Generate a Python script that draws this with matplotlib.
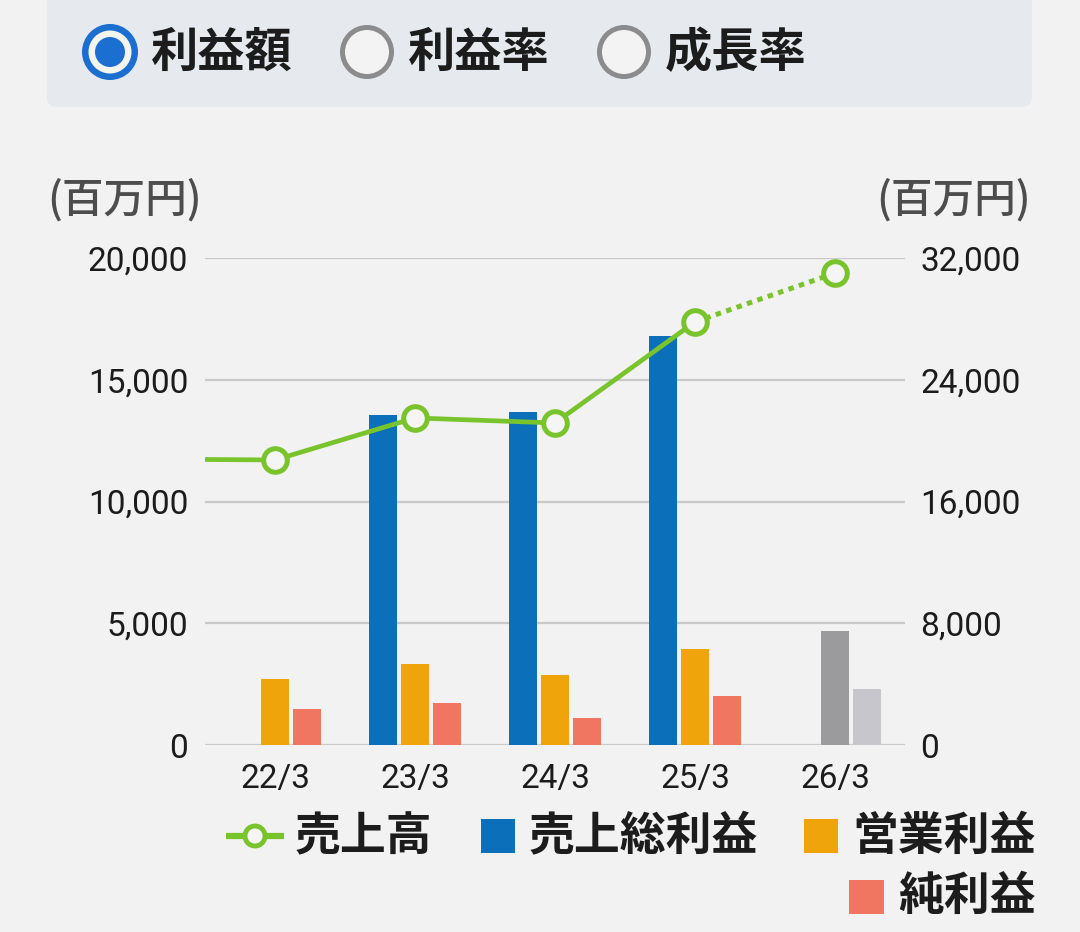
import matplotlib
matplotlib.use("Agg")
import matplotlib.pyplot as plt
from matplotlib.patches import FancyBboxPatch, Circle, Rectangle
from matplotlib.lines import Line2D
import numpy as np

# ---- data ----
categories = ['22/3', '23/3', '24/3', '25/3', '26/3']
sales_prev = 18790          # 21/3 (off the left edge)
sales = [18730, 21490, 21160, 27800, 31010]
gross_profit = [None, 13550, 13680, 16800, None]
operating_profit = [2710, 3330, 2880, 3930, None]
net_profit = [1490, 1740, 1100, 2000, None]
forecast_operating = 4700   # 26/3
forecast_net = 2300         # 26/3
left_ticks = [0, 5000, 10000, 15000, 20000]
right_ticks = [0, 8000, 16000, 24000, 32000]
radio_labels = ['利益額', '利益率', '成長率']
legend_labels = ['売上高', '売上総利益', '営業利益', '純利益']
unit_label = '(百万円)'

# ---- style ----
BG = '#f2f2f2'
BLUE = '#0b6fba'
ORANGE = '#f0a40c'
RED = '#f07662'
GRAY = '#9b9b9d'
LGRAY = '#c6c6cc'
GREEN = '#79c42c'
CJK = ['Noto Sans CJK JP', 'DejaVu Sans']
NUM = ['Roboto', 'Noto Sans CJK JP']
TXT = '#1c1c1c'

W, H = 1080, 932
fig = plt.figure(figsize=(W / 100, H / 100), dpi=100, facecolor=BG)

# background overlay axes in pixel coordinates
bg = fig.add_axes([0, 0, 1, 1], zorder=-1)
bg.set_xlim(0, W)
bg.set_ylim(H, 0)
bg.axis('off')

# top panel
bg.add_patch(FancyBboxPatch((47, -20), 985, 127, boxstyle='round,pad=0,rounding_size=10',
                            fc='#e6e9ed', ec='none'))
radio_x = [110, 367, 624]
for i, (cx, lab) in enumerate(zip(radio_x, radio_labels)):
    if i == 0:
        bg.add_patch(Circle((cx, 52), 28, fc='#1a6fd0', ec='none'))
        bg.add_patch(Circle((cx, 52), 21.5, fc='#f5f5f0', ec='none'))
        bg.add_patch(Circle((cx, 52), 15, fc='#1a6fd0', ec='none'))
    else:
        bg.add_patch(Circle((cx, 52), 27, fc='#8c8c8c', ec='none'))
        bg.add_patch(Circle((cx, 52), 22, fc='#f3f3f3', ec='none'))
    bg.text(cx + 41, 53, lab, fontsize=34, family=CJK, weight='bold', color=TXT,
            ha='left', va='center')

# unit labels
bg.text(47, 200, unit_label, fontsize=30, family=CJK, weight='medium', color='#4d4d4d',
        ha='left', va='center')
bg.text(1031, 200, unit_label, fontsize=30, family=CJK, weight='medium', color='#4d4d4d',
        ha='right', va='center')

# legend
LFS = 33
bg.add_line(Line2D([226, 284], [836, 836], color=GREEN, lw=4.5, solid_capstyle='butt'))
bg.add_patch(Circle((255, 836), 10, fc='#f5f5f5', ec=GREEN, lw=3.5, zorder=3))
bg.text(295, 837, legend_labels[0], fontsize=LFS, family=CJK, weight='bold', color=TXT, va='center')
bg.add_patch(Rectangle((481, 819), 34, 34, fc=BLUE, ec='none'))
bg.text(529, 837, legend_labels[1], fontsize=LFS, family=CJK, weight='bold', color=TXT, va='center')
bg.add_patch(Rectangle((804, 819), 34, 34, fc=ORANGE, ec='none'))
bg.text(852, 837, legend_labels[2], fontsize=LFS, family=CJK, weight='bold', color=TXT, va='center')
bg.add_patch(Rectangle((849, 880), 35, 34, fc=RED, ec='none'))
bg.text(898, 897, legend_labels[3], fontsize=LFS, family=CJK, weight='bold', color=TXT, va='center')

# ---- main chart ----
ax = fig.add_axes([205 / W, (H - 745) / H, 700 / W, 487 / H])
ax.set_facecolor('none')
ax.set_xlim(-0.5, 4.5)
ax.set_ylim(0, 20000)
for s in ax.spines.values():
    s.set_visible(False)
ax.set_yticks(left_ticks)
ax.set_yticklabels([f'{v:,}' for v in left_ticks], family=NUM, fontsize=24, color=TXT)
ax.yaxis.grid(True, color='#c9c9c9', lw=1.6)
ax.set_axisbelow(True)
ax.tick_params(axis='y', length=0, pad=12)
ax.set_xticks(range(len(categories)))
ax.set_xticklabels(categories, family=NUM, fontsize=24, color=TXT)
ax.tick_params(axis='x', length=0, pad=13)

bw = 0.2
off = 0.23
x = np.arange(len(categories))
gi = [i for i, v in enumerate(gross_profit) if v is not None]
ax.bar(x[gi] - off, [gross_profit[i] for i in gi], width=bw, color=BLUE, zorder=2)
oi = [i for i, v in enumerate(operating_profit) if v is not None]
ax.bar(x[oi], [operating_profit[i] for i in oi], width=bw, color=ORANGE, zorder=2)
ni = [i for i, v in enumerate(net_profit) if v is not None]
ax.bar(x[ni] + off, [net_profit[i] for i in ni], width=bw, color=RED, zorder=2)
ax.bar(x[4], forecast_operating, width=bw, color=GRAY, zorder=2)
ax.bar(x[4] + off, forecast_net, width=bw, color=LGRAY, zorder=2)

ax2 = ax.twinx()
ax2.set_ylim(0, 32000)
for s in ax2.spines.values():
    s.set_visible(False)
ax2.set_yticks(right_ticks)
ax2.set_yticklabels([f'{v:,}' for v in right_ticks], family=NUM, fontsize=24, color=TXT)
ax2.tick_params(axis='y', length=0, pad=11)

xs_solid = [-1, 0, 1, 2, 3]
ys_solid = [sales_prev] + sales[:4]
ax2.plot(xs_solid, ys_solid, color=GREEN, lw=3.4, solid_capstyle='butt', zorder=3)
ax2.plot([3, 4], sales[3:5], color=GREEN, lw=3.6, dashes=(1.1, 1.1), dash_capstyle='butt', zorder=3)
ax2.plot(x, sales, ls='none', marker='o', ms=17, mfc='#f5f5f5', mec=GREEN, mew=3.6, zorder=4,
         clip_on=False)

fig.savefig('out.png', dpi=100, facecolor=BG)
